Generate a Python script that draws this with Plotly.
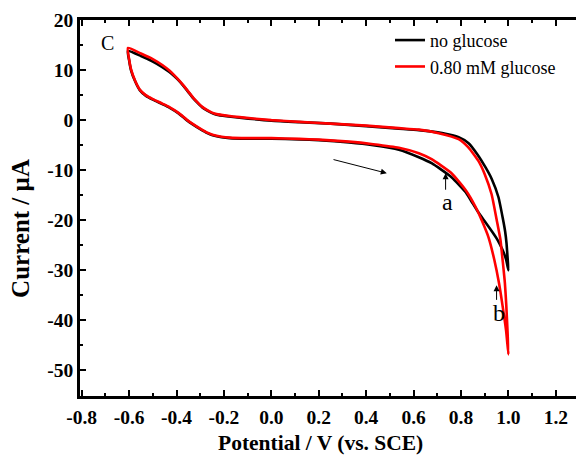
import plotly.graph_objects as go

# Cyclic voltammograms: potential (V vs. SCE) and current (µA).
# Each list runs forward from -0.6 V to 1.0 V and back again.
no_glucose_v = [-0.605, -0.600, -0.592, -0.575, -0.555, -0.530, -0.500, -0.460, -0.430, -0.390,
                -0.357, -0.330, -0.300, -0.270, -0.248, -0.210, -0.176, -0.100, 0.000, 0.118,
                0.200, 0.328, 0.430, 0.538, 0.622, 0.676, 0.760, 0.820, 0.845, 0.870,
                0.900, 0.930, 0.955, 0.975, 0.990, 1.000,
                0.996, 0.992, 0.986, 0.977, 0.958, 0.930, 0.903, 0.870, 0.832, 0.790,
                0.720, 0.622, 0.538, 0.400, 0.250, 0.118, 0.000, -0.134, -0.190, -0.231,
                -0.250, -0.270, -0.290, -0.310, -0.330, -0.350, -0.370, -0.390, -0.410, -0.430,
                -0.460, -0.500, -0.550, -0.605]
no_glucose_i = [13.8, 12.0, 10.0, 7.8, 6.0, 4.9, 4.1, 3.2, 2.5, 1.3,
                0.0, -0.9, -1.8, -2.6, -3.0, -3.4, -3.6, -3.7, -3.7, -3.85,
                -4.0, -4.45, -5.0, -5.9, -7.4, -8.6, -11.4, -14.4, -16.3, -18.2,
                -20.2, -22.2, -24.0, -25.9, -27.8, -30.0,
                -27.2, -24.6, -22.2, -19.8, -15.4, -11.8, -9.4, -6.9, -4.6, -3.4,
                -2.6, -2.0, -1.7, -1.2, -0.7, -0.4, -0.1, 0.5, 0.8, 1.1,
                1.4, 1.9, 2.5, 3.4, 4.4, 5.6, 6.8, 7.9, 8.8, 9.6,
                10.6, 11.7, 12.8, 13.8]

glucose_v = [-0.605, -0.600, -0.592, -0.575, -0.555, -0.530, -0.500, -0.460, -0.430, -0.390,
             -0.357, -0.330, -0.300, -0.270, -0.248, -0.210, -0.176, -0.100, 0.000, 0.118,
             0.200, 0.328, 0.430, 0.538, 0.622, 0.676, 0.760, 0.820, 0.860, 0.890,
             0.916, 0.940, 0.960, 0.975, 0.990, 1.000,
             0.996, 0.991, 0.985, 0.976, 0.966, 0.950, 0.929, 0.900, 0.874, 0.830,
             0.790, 0.706, 0.622, 0.538, 0.400, 0.250, 0.118, 0.000, -0.134, -0.190,
             -0.231, -0.250, -0.270, -0.290, -0.310, -0.330, -0.350, -0.370, -0.390, -0.410,
             -0.430, -0.460, -0.500, -0.550, -0.605]
glucose_i = [14.4, 12.2, 10.2, 7.9, 6.1, 5.0, 4.2, 3.3, 2.6, 1.4,
             0.1, -0.8, -1.7, -2.5, -2.9, -3.3, -3.5, -3.6, -3.6, -3.75,
             -3.9, -4.3, -4.8, -5.5, -6.6, -7.8, -10.6, -14.0, -17.2, -20.3,
             -23.4, -27.8, -32.5, -37.0, -42.0, -46.8,
             -42.0, -37.0, -32.5, -28.2, -23.8, -19.8, -14.8, -10.8, -8.2, -5.4,
             -3.8, -2.6, -1.9, -1.6, -1.1, -0.7, -0.35, 0.0, 0.6, 0.9,
             1.2, 1.5, 2.0, 2.6, 3.5, 4.5, 5.7, 6.9, 8.0, 9.0,
             9.9, 11.0, 12.2, 13.3, 14.4]

x_ticks = [-0.8, -0.6, -0.4, -0.2, 0.0, 0.2, 0.4, 0.6, 0.8, 1.0, 1.2]
x_tick_text = ["<b>%s</b>" % t for t in
               ["-0.8", "-0.6", "-0.4", "-0.2", "0.0", "0.2", "0.4", "0.6", "0.8", "1.0", "1.2"]]
y_ticks = [20, 10, 0, -10, -20, -30, -40, -50]
y_tick_text = ["<b>%s</b>" % t for t in ["20", "10", "0", "-10", "-20", "-30", "-40", "-50"]]

serif = "Liberation Serif"
tick_font = dict(family=serif, size=19.5, color="black")

fig = go.Figure()
fig.add_trace(go.Scatter(x=no_glucose_v, y=no_glucose_i, mode="lines", name="no glucose",
                         line=dict(color="black", width=2.6, shape="spline", smoothing=0.5)))
fig.add_trace(go.Scatter(x=glucose_v, y=glucose_i, mode="lines", name="0.80 mM glucose",
                         line=dict(color="#ff0000", width=2.6, shape="spline", smoothing=0.5)))

axis_common = dict(showline=True, linecolor="black", linewidth=2.5,
                   ticks="inside", ticklen=6, tickwidth=2, tickcolor="black",
                   showgrid=False, zeroline=False, tickfont=tick_font)

fig.update_xaxes(range=[-0.807, 1.285], tickvals=x_ticks, ticktext=x_tick_text, mirror="ticks",
                 ticklabelstandoff=2,
                 minor=dict(dtick=0.1, tick0=-0.8, ticks="inside", ticklen=3, tickwidth=2,
                            tickcolor="black"),
                 **axis_common)
fig.update_yaxes(range=[-55.1, 20], tickvals=y_ticks, ticktext=y_tick_text, mirror=False,
                 minor=dict(dtick=5, tick0=0, ticks="inside", ticklen=3, tickwidth=2,
                            tickcolor="black"),
                 **axis_common)

# axis titles
fig.add_annotation(x=0.484, y=-0.125, xref="paper", yref="paper", xanchor="center",
                   yanchor="middle", text="<b>Potential / V (vs. SCE)</b>", showarrow=False,
                   borderpad=0, font=dict(family=serif, size=21.5, color="black"))
fig.add_annotation(x=-0.119, y=0.447, xref="paper", yref="paper", xanchor="center",
                   yanchor="middle", text="<b>Current / µA</b>", textangle=-90, showarrow=False,
                   font=dict(family=serif, size=25, color="black"))

# scan-direction arrow and the two marked features
arrow_style = dict(xref="x", yref="y", axref="x", ayref="y", text="", showarrow=True,
                   arrowhead=2, arrowsize=1.2, arrowwidth=1, arrowcolor="black")
fig.add_annotation(x=0.487, y=-10.6, ax=0.256, ay=-7.8, **arrow_style)
fig.add_annotation(x=0.735, y=-10.6, ax=0.735, ay=-14.2, **arrow_style)
fig.add_annotation(x=0.95, y=-33.0, ax=0.95, ay=-36.2, **arrow_style)
fig.add_annotation(x=0.745, y=-16.3, xref="x", yref="y", text="a", showarrow=False,
                   font=dict(family=serif, size=24, color="black"))
fig.add_annotation(x=0.962, y=-38.6, xref="x", yref="y", text="b", showarrow=False,
                   font=dict(family=serif, size=24, color="black"))
fig.add_annotation(x=0.055, y=0.938, xref="paper", yref="paper", xanchor="center",
                   yanchor="middle", text="C", showarrow=False,
                   font=dict(family=serif, size=20, color="black"))

fig.update_layout(
    width=576, height=457,
    margin=dict(l=80, r=0, t=20, b=61),
    paper_bgcolor="white", plot_bgcolor="white",
    legend=dict(x=0.625, y=0.995, xanchor="left", yanchor="top", bgcolor="rgba(0,0,0,0)",
                font=dict(family=serif, size=18, color="black"), tracegroupgap=0,
                itemwidth=30),
)

fig.write_html("out.html")
